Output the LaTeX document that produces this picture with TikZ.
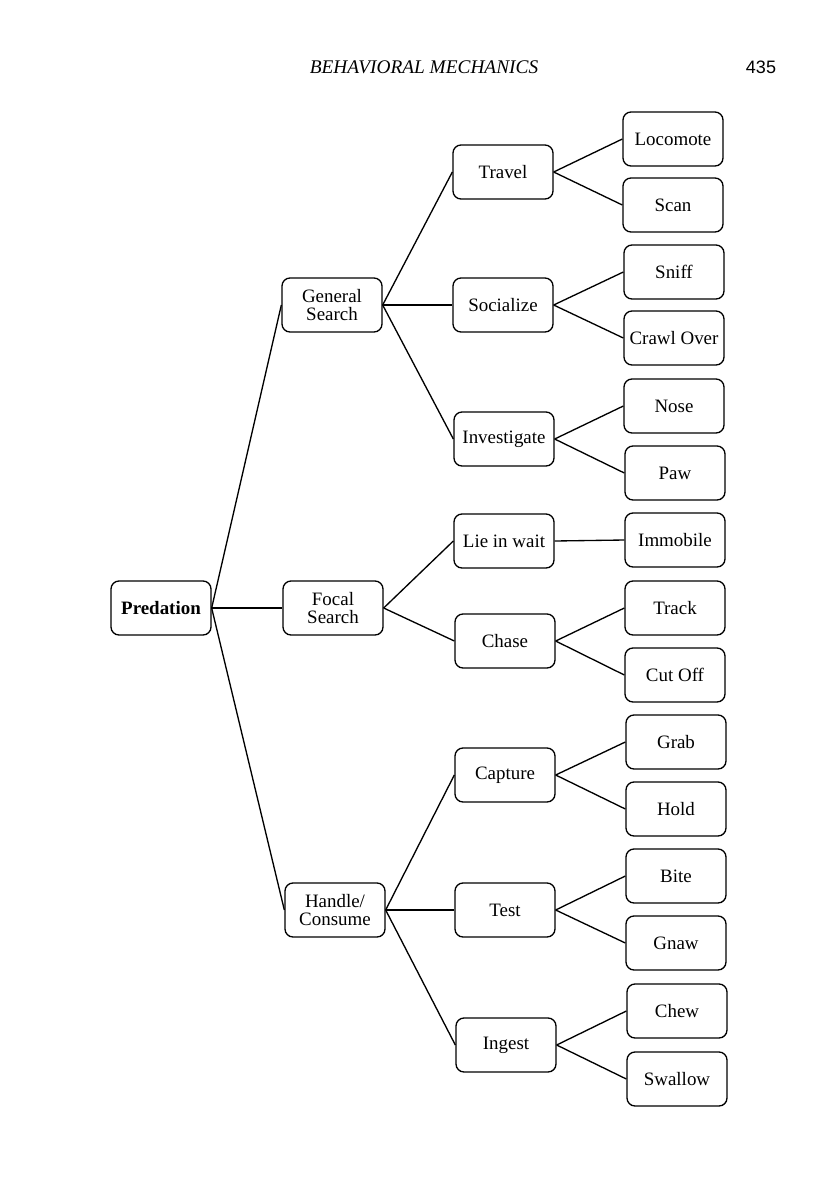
\documentclass[tikz,border=0pt]{standalone}
\usepackage{fontspec}
\setmainfont{Liberation Serif}
\newfontfamily\numfont{Liberation Sans}
\begin{document}
\begin{tikzpicture}[x=0.75pt,y=-0.75pt,
  box/.style={draw, line width=1pt, rounded corners=6pt, minimum width=75pt, minimum height=40.5pt, inner sep=1pt, align=center, font=\fontsize{14.2}{13.5}\selectfont},
  link/.style={line width=1pt}]
\useasboundingbox (0,0) rectangle (816,1200);
\node[font=\itshape\fontsize{14.5}{16}\selectfont] (hdr) at (424,67) {BEHAVIORAL MECHANICS};
\node[font=\numfont\fontsize{13.5}{16}\selectfont] (pg) at (761,67) {435};
% root
\node[box, font=\bfseries\fontsize{14.2}{13.5}\selectfont] (pred) at (161,608) {Predation};
% level 1
\node[box] (gs) at (332,305) {General\\Search};
\node[box] (fs) at (333,608) {Focal\\Search};
\node[box] (hc) at (335,910) {Handle/\\Consume};
% level 2
\node[box] (tr) at (503,172) {Travel};
\node[box] (so) at (503,305) {Socialize};
\node[box] (in) at (504,439) {Investigate};
\node[box] (lw) at (504,541) {Lie in wait};
\node[box] (ch) at (505,641) {Chase};
\node[box] (ca) at (505,775) {Capture};
\node[box] (te) at (505,910) {Test};
\node[box] (ig) at (506,1045) {Ingest};
% leaves
\node[box] (lo) at (673,139) {Locomote};
\node[box] (sc) at (673,205) {Scan};
\node[box] (sn) at (674,272) {Sniff};
\node[box] (cr) at (674,338) {Crawl Over};
\node[box] (no) at (674,406) {Nose};
\node[box] (pa) at (675,473) {Paw};
\node[box] (im) at (675,540) {Immobile};
\node[box] (tk) at (675,608) {Track};
\node[box] (co) at (675,675) {Cut Off};
\node[box] (gr) at (676,742) {Grab};
\node[box] (ho) at (676,809) {Hold};
\node[box] (bi) at (676,876) {Bite};
\node[box] (gn) at (676,943) {Gnaw};
\node[box] (cw) at (677,1011) {Chew};
\node[box] (sw) at (677,1079) {Swallow};
% connectors
\foreach \a/\b in {pred/gs,pred/fs,pred/hc,
  gs/tr,gs/so,gs/in,fs/lw,fs/ch,hc/ca,hc/te,hc/ig,
  tr/lo,tr/sc,so/sn,so/cr,in/no,in/pa,lw/im,ch/tk,ch/co,
  ca/gr,ca/ho,te/bi,te/gn,ig/cw,ig/sw}
  \draw[link] (\a.east) -- (\b.west);
\end{tikzpicture}
\end{document}
